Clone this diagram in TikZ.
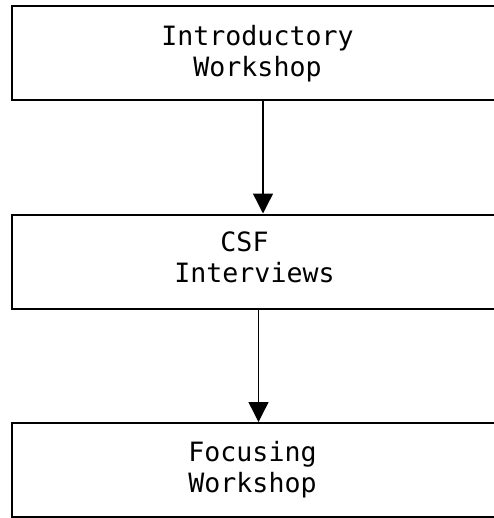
\documentclass[tikz,border=0pt]{standalone}
\usepackage{fontspec}
\newfontfamily\typefont{DejaVu Sans Mono}
\usepackage{tikz}
\usetikzlibrary{arrows.meta}
\usetikzlibrary{positioning}
\tikzset{
    stage/.style={
           rectangle,
           draw=black, line width=1pt,
           minimum width=242.5pt,
           minimum height=47pt,
           inner sep=0pt,
           },
    stagetext/.style={
           align=center,
           inner sep=0pt,
           font=\typefont\fontsize{13.3pt}{15.5pt}\selectfont,
           },
}

\begin{document}
\begin{tikzpicture}
[
->,>={Triangle[width=10pt,length=10pt]}
]

 % page size of the scan
 \useasboundingbox (0,0) rectangle (246.5pt,-259pt);

 % First box: workshop at the start
 \node[stage] at (127.25pt,-26.5pt) (INTRO) {};
 \node[stagetext,
 xshift=1.5pt,
 yshift=-0.5pt
 ] at (INTRO) (INTROTXT)
 {%
Introductory\\Workshop
 };

 % Next box: interviews
 \node[stage,
 below of=INTRO,
 node distance=104.25pt] (CSF) {};
 \node[stagetext,
 yshift=2pt
 ] at (CSF) (CSFTXT)
 {%
CSF\hspace*{10pt}\\Interviews
 };

 % Last box
 \node[stage,
 below of=CSF,
 node distance=104.25pt] (FOCUS) {};
 \node[stagetext,
 xshift=-1pt,
 yshift=0pt
 ] at (FOCUS) (FOCUSTXT)
 {%
Focusing\\Workshop
 };

 % draw the paths
 \path[line width=0.7pt]
 ([xshift=4.25pt]INTRO.south) edge ([xshift=4.25pt]CSF.north)
 ([xshift=2pt]CSF.south) edge ([xshift=2pt]FOCUS.north)
 ;

\end{tikzpicture}
\end{document}
